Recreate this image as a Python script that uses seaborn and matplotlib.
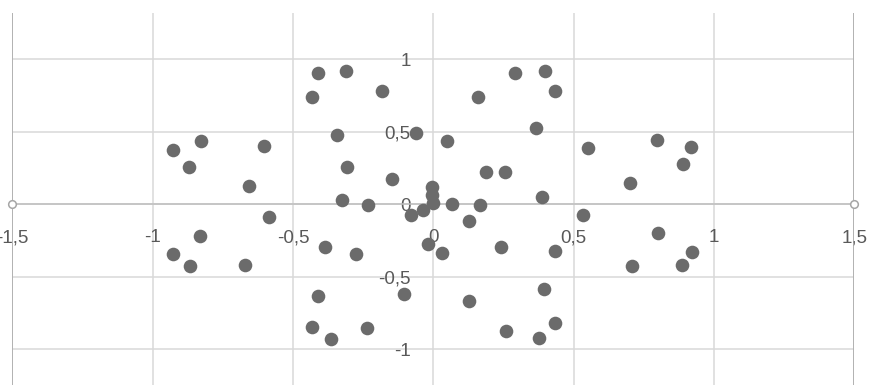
import matplotlib
matplotlib.use("Agg")
import matplotlib.pyplot as plt
import seaborn as sns
import pandas as pd

# ---- data ----
x_values = [
    -0.412, -0.312, -0.431, -0.182, -0.344, -0.063, -0.309, -0.148, 0.049,
    -0.929, -0.829, -0.604, -0.870, -0.658, -0.584, -0.832, -0.929, -0.868, -0.670,
    -0.386, -0.275, -0.020, 0.031, -0.410, -0.105, -0.433, -0.363, -0.237,
    0.127, 0.259, 0.378, 0.434, 0.393, 0.241, 0.435,
    0.552, 0.797, 0.919, 0.891, 0.702, 0.533, 0.800, 0.923, 0.886, 0.707,
    0.158, 0.290, 0.398, 0.434, 0.366, 0.189, 0.254, 0.387,
    -0.005, -0.003, -0.001, -0.038, -0.079, 0.066, -0.326, -0.232, 0.165, 0.128,
]
y_values = [
    0.905, 0.921, 0.743, 0.780, 0.479, 0.494, 0.258, 0.173, 0.437,
    0.377, 0.437, 0.403, 0.258, 0.124, -0.090, -0.219, -0.343, -0.426, -0.419,
    -0.295, -0.343, -0.274, -0.338, -0.633, -0.622, -0.845, -0.928, -0.852,
    -0.670, -0.875, -0.923, -0.820, -0.587, -0.293, -0.323,
    0.387, 0.442, 0.394, 0.280, 0.149, -0.074, -0.196, -0.327, -0.417, -0.426,
    0.741, 0.909, 0.918, 0.780, 0.527, 0.221, 0.221, 0.052,
    0.119, 0.061, 0.007, -0.039, -0.072, 0.002, 0.033, -0.007, -0.005, -0.115,
]
x_ticks = [-1.5, -1.0, -0.5, 0.0, 0.5, 1.0, 1.5]
x_tick_labels = ["-1,5", "-1", "-0,5", "0", "0,5", "1", "1,5"]
y_ticks = [-1.0, -0.5, 0.0, 0.5, 1.0]
y_tick_labels = ["-1", "-0,5", "0", "0,5", "1"]

df = pd.DataFrame({"x": x_values, "y": y_values})

sns.set_theme(style="white")
plt.rcParams["font.family"] = ["Liberation Sans", "DejaVu Sans"]

W, H = 884, 385
fig = plt.figure(figsize=(W / 100, H / 100), dpi=100)
ax = fig.add_axes([12.3 / W, 0.0, 842.0 / W, (385 - 13.3) / H])

XMIN, XMAX = -1.5, 1.5
YMIN, YMAX = -1.248, 1.319

sns.scatterplot(data=df, x="x", y="y", ax=ax, color="#6b6b6b", s=96,
                linewidth=0, zorder=5, legend=False)

ax.set_xlim(XMIN, XMAX)
ax.set_ylim(YMIN, YMAX)
ax.set_xlabel("")
ax.set_ylabel("")

ax.set_xticks(x_ticks)
ax.set_xticklabels(x_tick_labels)
ax.set_yticks(y_ticks)
ax.set_yticklabels(y_tick_labels)

for s in ax.spines.values():
    s.set_visible(False)
ax.spines["bottom"].set_position(("data", 0))
ax.spines["left"].set_position(("data", 0))

ax.tick_params(axis="x", length=0, pad=18, labelsize=13.5, labelcolor="#595959")
ax.tick_params(axis="y", length=0, pad=16.3, labelsize=13.5, labelcolor="#595959")
for lab in ax.get_xticklabels() + ax.get_yticklabels():
    lab.set_clip_on(False)

ax.grid(True, color="#d9d9d9", linewidth=1.1)
ax.set_axisbelow(True)

# plot-area edges and horizontal axis line
ax.axvline(XMIN, color="#a6a6a6", linewidth=1.1, zorder=2)
ax.axvline(XMAX, color="#a6a6a6", linewidth=1.1, zorder=2)
ax.axhline(0, color="#bfbfbf", linewidth=1.1, zorder=2)
ax.plot([XMIN, XMAX], [0, 0], linestyle="none", marker="o", markersize=5.5,
        markerfacecolor="white", markeredgecolor="#a6a6a6", markeredgewidth=1.1,
        clip_on=False, zorder=3)

fig.savefig("out.png", dpi=100)
